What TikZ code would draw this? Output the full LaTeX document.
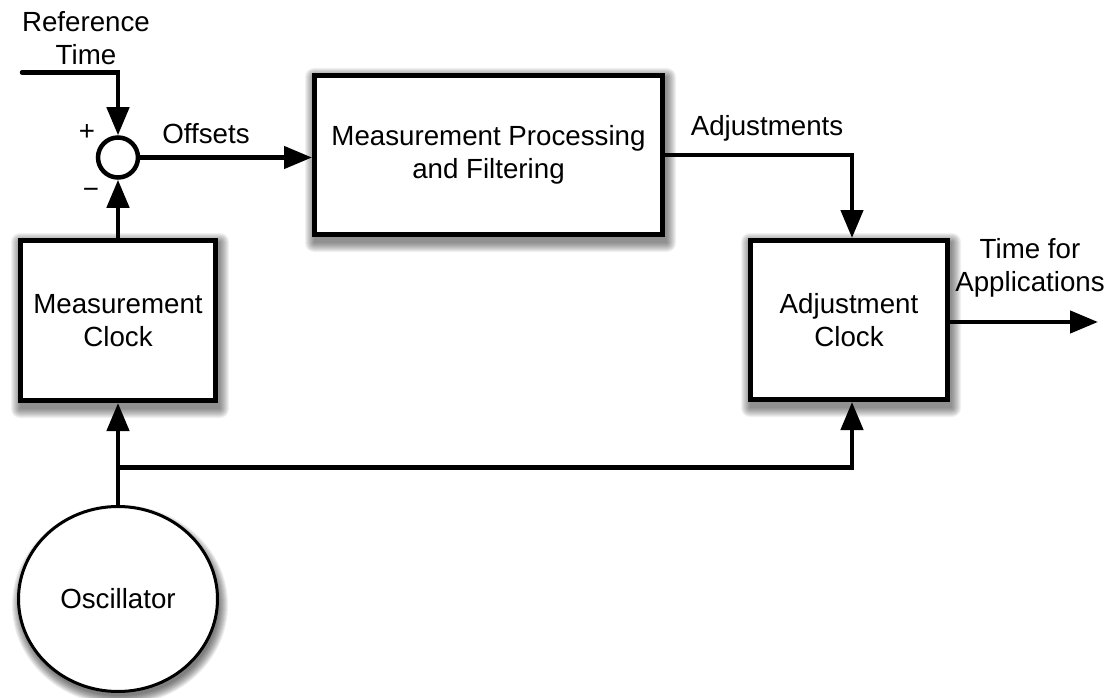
\documentclass[tikz,border=0pt]{standalone}
\usepackage{fontspec}
\setmainfont{Liberation Sans}
\usetikzlibrary{arrows.meta,shapes.geometric,calc}

\pgfdeclarelayer{background}
\pgfsetlayers{background,main}

% soft shadow built from stacked translucent layers, offset down and right
\newcommand{\boxshadow}[1]{%
  \foreach \e in {9,8,...,0}{%
    \fill[black, opacity=0.055, rounded corners=\e pt]
      ($(#1.north west)+(2-\e,4-\e)$) rectangle ($(#1.south east)+(2+\e,6+\e)$);
  }}
\newcommand{\ellshadow}[3]{%
  \foreach \e in {9,8,...,0}{%
    \fill[black, opacity=0.065]
      ($(#1.center)+(2,6)$) ellipse [x radius=#2+\e, y radius=#3+\e];
  }}

\begin{document}
\begin{tikzpicture}[x=1pt,y=-1pt,
  every node/.style={font=\fontsize{27.7}{33}\selectfont, align=center, inner sep=0pt},
  block/.style={draw, line width=5pt, fill=white},
  wire/.style={line width=4.5pt},
  arr/.style={wire, -{Triangle[length=28pt,width=22pt]}},
]
\useasboundingbox (0,0) rectangle (1109,698);

% blocks
\node[block, minimum width=348pt, minimum height=159pt] (proc) at (488.5,155)
  {Measurement Processing\\and Filtering};
\node[block, minimum width=195pt, minimum height=160pt] (mclock) at (118,320.5)
  {Measurement\\Clock};
\node[block, minimum width=197pt, minimum height=159pt] (aclock) at (849,320)
  {Adjustment\\Clock};
\node[ellipse, draw, line width=3pt, fill=white,
      minimum width=199pt, minimum height=185pt] (osc) at (118,599) {Oscillator};

% shadows behind the blocks
\begin{pgfonlayer}{background}
  \boxshadow{proc}
  \boxshadow{mclock}
  \boxshadow{aclock}
  \ellshadow{osc}{99}{91}
\end{pgfonlayer}

% summing junction
\node[circle, draw, line width=4.5pt, fill=white, minimum size=40pt] (sum) at (118,157.5) {};

% free ends and bends
\coordinate (refin) at (22,72.5);
\coordinate (adjcorner) at (852,155);
\coordinate (out) at (1098,322);
\coordinate (split) at (118,467.5);

% connectors
\draw[arr, line cap=round] (refin) -| (sum.north);
\draw[arr] (mclock.north) -- (sum.south);
\draw[arr] (sum.east) -- (sum.east -| proc.west);
\draw[arr] (proc.east |- adjcorner) -- (adjcorner) -- (adjcorner |- aclock.north);
\draw[arr] (aclock.east |- out) -- (out);
\draw[arr] (osc.north) -- (mclock.south);
\draw[arr] (split) -| (adjcorner |- aclock.south);

% labels
\node (reflbl) at (86,38) {Reference\\Time};
\node (plus) at (87,133) {+};
\node (minus) at (91,193) {−};
\node (offlbl) at (206,134) {Offsets};
\node (adjlbl) at (767,128) {Adjustments};
\node (outlbl) at (1030,268) {Time for\\Applications};
\end{tikzpicture}
\end{document}
